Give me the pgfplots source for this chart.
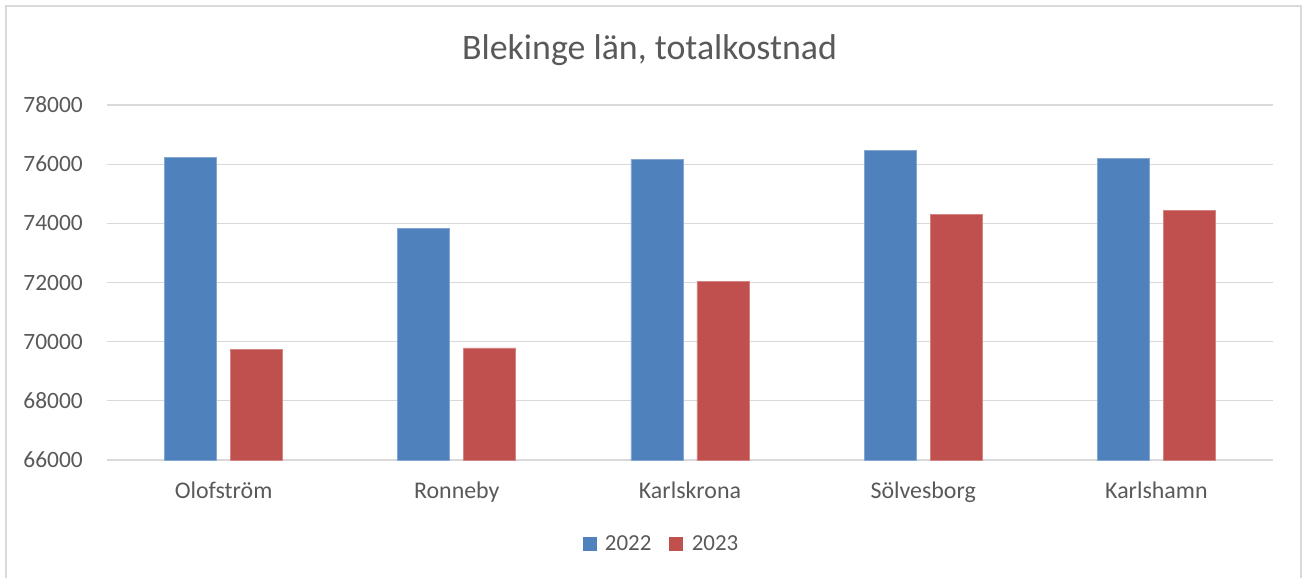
\documentclass[border=0pt]{standalone}
\usepackage{pgfplots}
\pgfplotsset{compat=1.18}
\usepackage{fontspec}
\setmainfont{Carlito}
\definecolor{txt}{HTML}{595959}
\definecolor{gridc}{HTML}{D9D9D9}
\definecolor{c22}{HTML}{4F81BD}
\definecolor{c23}{HTML}{C0504D}
\begin{document}
\begin{tikzpicture}
\path[use as bounding box] (-107bp,-118bp) rectangle (1196bp,460bp);
\draw[gridc, line width=1.3bp] (-101bp,-140bp) -- (-101bp,454bp) -- (1194bp,454bp) -- (1194bp,-140bp);
\begin{axis}[
  scale only axis,
  width=1166bp, height=355bp,
  at={(0,0)}, anchor=south west,
  ybar=14bp, bar width=52bp,
  xmin=-0.5, xmax=4.5,
  ymin=66000, ymax=78000,
  ytick={66000,68000,...,78000},
  scaled y ticks=false,
  xtick=data,
  xticklabels={Olofström,Ronneby,Karlskrona,Sölvesborg,Karlshamn},
  axis line style={draw=none},
  major tick length=0pt,
  ymajorgrids,
  grid style={gridc, line width=1.3bp},
  /pgf/number format/assume math mode=true,
  y tick label style={/pgf/number format/1000 sep={}, font=\fontsize{23.5}{27}\selectfont, text=txt, inner sep=0pt, anchor=east, xshift=-24bp},
  x tick label style={font=\fontsize{24}{27}\selectfont, text=txt, inner sep=0pt, anchor=base, yshift=-38bp},
  legend style={draw=none, fill=none, at={(0.4755,-0.2366)}, anchor=center, font=\fontsize{23}{26}\selectfont, text=txt, inner sep=0pt, legend columns=-1,
    /tikz/every even column/.append style={column sep=16bp}},
  legend image code/.code={\fill[#1, draw=none] (0bp,-7bp) rectangle (14bp,7bp); \path (20bp,0bp);},
]
\addplot[fill=c22, draw=c22!70!white, line width=0.8bp] coordinates {(0,76217) (1,73831) (2,76159) (3,76464) (4,76183)};
\addplot[fill=c23, draw=c23!70!white, line width=0.8bp] coordinates {(0,69729) (1,69786) (2,72024) (3,74305) (4,74427)};
\legend{2022,2023}
\end{axis}
\node[anchor=base, text=txt, font=\fontsize{36}{40}\selectfont, inner sep=0pt] at (542.5bp,400bp) {Blekinge län, totalkostnad};
\end{tikzpicture}
\end{document}
